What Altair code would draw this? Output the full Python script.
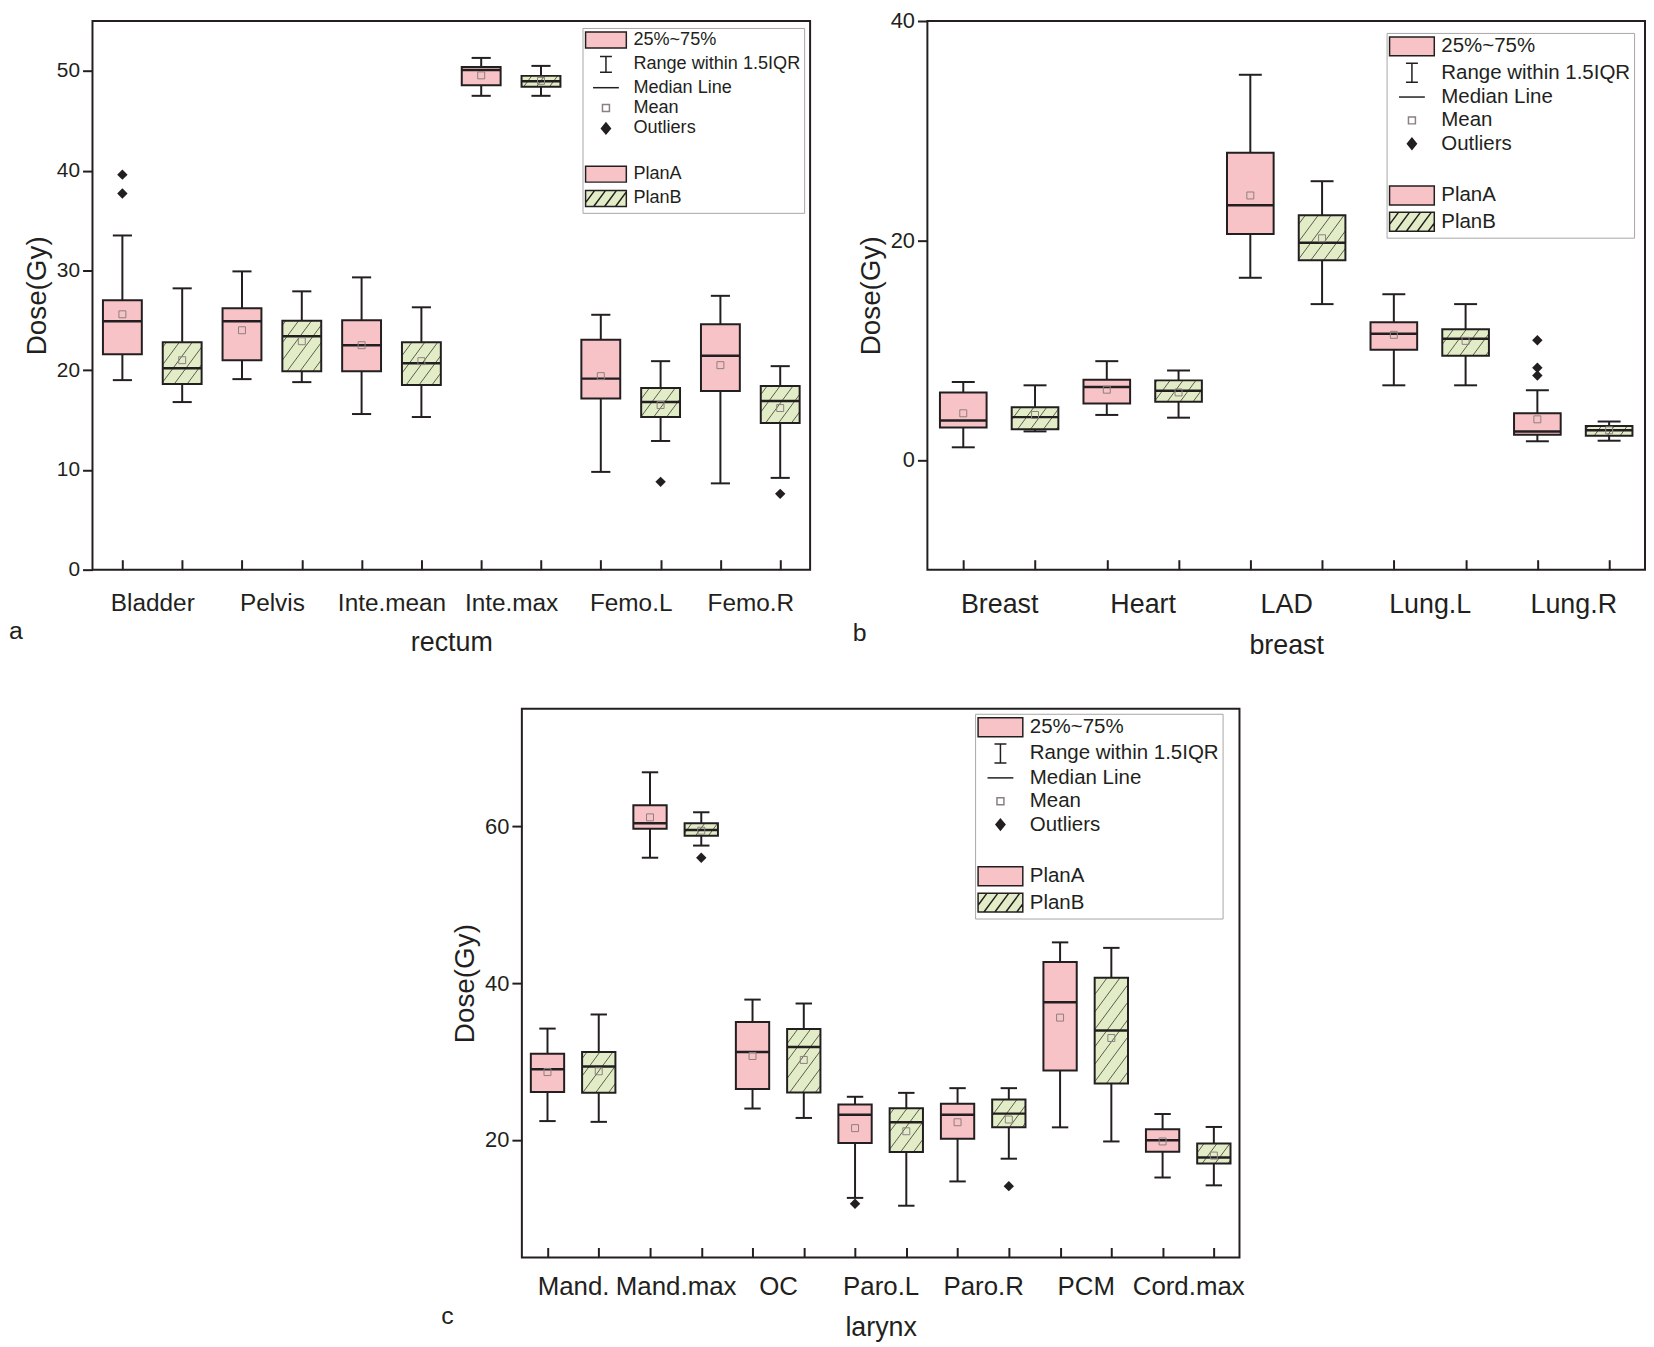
import json
import math

import altair as alt
import pandas as pd

PINK = "#f8c3c6"
GREEN = "#e2edc8"
DARK = "#231f20"
HATCH = "#4a4a40"
MEAN_GRAY = "#8a8080"
FONT = "Liberation Sans"

BOX_HALF = 0.325
CAP_HALF = 0.16
HATCH_GAP = 13      # px between hatch lines
HATCH_SLOPE = 1.35
SYM_STROKE = 1.5

# (a) rectum
RECTUM_ORGANS = ["Bladder", "Pelvis", "Inte.mean", "Inte.max", "Femo.L", "Femo.R"]
RECTUM_A_LOW = [19.0, 19.1, 15.6, 47.5, 9.8, 8.65]
RECTUM_A_Q1 = [21.6, 21.0, 19.9, 48.55, 17.15, 17.9]
RECTUM_A_MED = [24.9, 24.9, 22.5, 50.1, 19.15, 21.45]
RECTUM_A_Q3 = [27.0, 26.2, 25.0, 50.4, 23.05, 24.6]
RECTUM_A_HIGH = [33.5, 29.9, 29.3, 51.3, 25.55, 27.45]
RECTUM_A_MEAN = [25.6, 24.0, 22.5, 49.55, 19.4, 20.5]
RECTUM_B_LOW = [16.8, 18.8, 15.3, 47.5, 12.9, 9.2]
RECTUM_B_Q1 = [18.6, 19.9, 18.5, 48.4, 15.3, 14.7]
RECTUM_B_MED = [20.2, 23.4, 20.7, 48.95, 16.8, 16.9]
RECTUM_B_Q3 = [22.8, 24.95, 22.8, 49.5, 18.2, 18.4]
RECTUM_B_HIGH = [28.2, 27.9, 26.3, 50.5, 20.9, 20.4]
RECTUM_B_MEAN = [21.0, 22.9, 20.9, 49.0, 16.5, 16.2]
RECTUM_A_OUT = [("Bladder", 39.6), ("Bladder", 37.7)]
RECTUM_B_OUT = [("Femo.L", 8.8), ("Femo.R", 7.6)]

# (b) breast
BREAST_ORGANS = ["Breast", "Heart", "LAD", "Lung.L", "Lung.R"]
BREAST_A_LOW = [1.15, 4.1, 16.6, 6.8, 1.7]
BREAST_A_Q1 = [2.95, 5.15, 20.6, 10.05, 2.3]
BREAST_A_MED = [3.6, 6.65, 23.2, 11.5, 2.6]
BREAST_A_Q3 = [6.15, 7.3, 28.0, 12.55, 4.25]
BREAST_A_HIGH = [7.1, 9.0, 35.1, 15.1, 6.35]
BREAST_A_MEAN = [4.25, 6.4, 24.1, 11.4, 3.7]
BREAST_B_LOW = [2.6, 3.85, 14.2, 6.8, 1.75]
BREAST_B_Q1 = [2.8, 5.3, 18.2, 9.5, 2.2]
BREAST_B_MED = [3.9, 6.3, 19.8, 11.05, 2.7]
BREAST_B_Q3 = [4.8, 7.25, 22.3, 11.9, 3.1]
BREAST_B_HIGH = [6.8, 8.15, 25.4, 14.2, 3.5]
BREAST_B_MEAN = [4.1, 6.15, 20.2, 10.85, 2.7]
BREAST_A_OUT = [("Lung.R", 10.9), ("Lung.R", 8.4), ("Lung.R", 7.7)]
BREAST_B_OUT = []

# (c) larynx
LARYNX_ORGANS = ["Mand.", "Mand.max", "OC", "Paro.L", "Paro.R", "PCM", "Cord.max"]
LARYNX_A_LOW = [22.4, 56.0, 24.0, 12.6, 14.7, 21.6, 15.2]
LARYNX_A_Q1 = [26.1, 59.7, 26.5, 19.6, 20.15, 28.85, 18.5]
LARYNX_A_MED = [29.0, 60.4, 31.2, 23.2, 23.2, 37.55, 19.95]
LARYNX_A_Q3 = [31.0, 62.7, 35.05, 24.5, 24.6, 42.7, 21.35]
LARYNX_A_HIGH = [34.2, 66.9, 37.9, 25.5, 26.6, 45.2, 23.3]
LARYNX_A_MEAN = [28.65, 61.15, 30.7, 21.5, 22.25, 35.6, 19.8]
LARYNX_B_LOW = [22.3, 57.55, 22.8, 11.6, 17.6, 19.8, 14.2]
LARYNX_B_Q1 = [26.0, 58.8, 26.05, 18.45, 21.6, 27.2, 17.0]
LARYNX_B_MED = [29.35, 59.55, 31.85, 22.25, 23.35, 33.95, 17.75]
LARYNX_B_Q3 = [31.2, 60.4, 34.15, 24.05, 25.15, 40.7, 19.55]
LARYNX_B_HIGH = [36.0, 61.8, 37.4, 26.0, 26.6, 44.5, 21.65]
LARYNX_B_MEAN = [28.75, 59.45, 30.2, 21.1, 22.6, 33.0, 18.0]
LARYNX_A_OUT = [("Paro.L", 11.85)]
LARYNX_B_OUT = [("Mand.max", 56.0), ("Paro.R", 14.1)]

# legend entries (Origin-style box legend)
LEGEND_KEYS = ["25%~75%", "Range within 1.5IQR", "Median Line", "Mean", "Outliers", " ", "PlanA", "PlanB"]
LEGEND_FILLS = [PINK, "transparent", "transparent", "transparent", DARK, "transparent", PINK, GREEN]
LEGEND_STROKES = [DARK, DARK, DARK, MEAN_GRAY, DARK, "transparent", DARK, DARK]


def legend_paths(w, h):
    # symbol paths in px, normalised by h/2 (vega scales custom paths by sqrt(size)/2)
    r = h / 2

    def p(v):
        return f"{v / r:.3f}"

    box = f"M{p(-w / 2)},{p(-h / 2)}H{p(w / 2)}V{p(h / 2)}H{p(-w / 2)}Z"
    whisker = (f"M{p(-6)},{p(-h / 2)}H{p(6)}M0,{p(-h / 2)}V{p(h / 2)}"
               f"M{p(-6)},{p(h / 2)}H{p(6)}")
    median = f"M{p(-13)},0H{p(13)}"
    mean = f"M{p(-3.5)},{p(-3.5)}H{p(3.5)}V{p(3.5)}H{p(-3.5)}Z"
    diamond = f"M0,{p(-5.5)}L{p(4.5)},0L0,{p(5.5)}L{p(-4.5)},0Z"
    hatch = ""
    dx = h / HATCH_SLOPE
    x0 = -w / 2 - dx + 9
    while x0 < w / 2:
        xa, ya = x0, h / 2
        xb, yb = x0 + dx, -h / 2
        if xa < -w / 2:
            ya = h / 2 - (-w / 2 - xa) * HATCH_SLOPE
            xa = -w / 2
        if xb > w / 2:
            yb = -h / 2 + (xb - w / 2) * HATCH_SLOPE
            xb = w / 2
        hatch += f"M{p(xa)},{p(ya)}L{p(xb)},{p(yb)}"
        x0 += 11
    return [box, whisker, median, mean, diamond, box, box, box + hatch]


def box_frame(organs, stats_a, stats_b):
    rows = []
    for plan, stats, shift in (("PlanA", stats_a, 1), ("PlanB", stats_b, 2)):
        low, q1, med, q3, high, mean = stats
        for i, organ in enumerate(organs):
            pos = 2 * i + shift
            rows.append(dict(organ=organ, plan=plan, pos=pos,
                             left=pos - BOX_HALF, right=pos + BOX_HALF,
                             cap_l=pos - CAP_HALF, cap_r=pos + CAP_HALF,
                             low=low[i], q1=q1[i], med=med[i], q3=q3[i],
                             high=high[i], mean=mean[i]))
    return pd.DataFrame(rows)


def outlier_frame(organs, out_a, out_b):
    rows = []
    for shift, pts in ((1, out_a), (2, out_b)):
        for organ, val in pts:
            rows.append(dict(pos=2 * organs.index(organ) + shift, val=val))
    return pd.DataFrame(rows, columns=["pos", "val"])


def hatch_frame(boxes, width, height, x_dom, y_dom):
    # diagonal hatching inside each PlanB box, in data units
    kx = width / (x_dom[1] - x_dom[0])
    ky = height / (y_dom[1] - y_dom[0])
    segs = []
    for r in boxes.itertuples():
        u0, u1 = r.left * kx, r.right * kx
        v0, v1 = r.q1 * ky, r.q3 * ky
        k_lo = math.ceil((u0 - v1 / HATCH_SLOPE) / HATCH_GAP)
        k_hi = math.floor((u1 - v0 / HATCH_SLOPE) / HATCH_GAP)
        for k in range(k_lo, k_hi + 1):
            t = k * HATCH_GAP
            lo = max(v0, HATCH_SLOPE * (u0 - t))
            hi = min(v1, HATCH_SLOPE * (u1 - t))
            if hi - lo > 0.5:
                segs.append(dict(x=(t + lo / HATCH_SLOPE) / kx, y=lo / ky,
                                 x2=(t + hi / HATCH_SLOPE) / kx, y2=hi / ky))
    return pd.DataFrame(segs, columns=["x", "y", "x2", "y2"])


def panel(organs, stats_a, stats_b, out_a, out_b, y_dom, y_ticks, x_title, letter,
          width, height, label_size, tick_size, legend_size, sym_w, sym_h, row_pad,
          legend_xy, label_pad, title_pad, letter_dx):
    n = len(organs)
    boxes = box_frame(organs, stats_a, stats_b)
    outliers = outlier_frame(organs, out_a, out_b)
    x_dom = [0.5, 2 * n + 0.5]
    hatch = hatch_frame(boxes[boxes.plan == "PlanB"], width, height, x_dom, y_dom)

    xs = alt.Scale(domain=x_dom, nice=False, zero=False)
    ys = alt.Scale(domain=y_dom, nice=False, zero=False)

    # inward ticks at every box, organ names centred under each pair
    tick_axis = alt.Axis(
        orient="bottom", values=list(range(1, 2 * n + 1)), labels=False,
        tickSize=10, tickWidth=2, tickColor=DARK, offset=-10, domain=False, grid=False,
        title=None,
    )
    label_axis = alt.Axis(
        orient="bottom", values=[2 * i + 1.5 for i in range(n)],
        labelExpr=f"{json.dumps(organs)}[(datum.value - 1.5) / 2]",
        ticks=False, tickSize=0, domain=False, grid=False, offset=0,
        labelPadding=label_pad, labelFontSize=label_size, labelFont=FONT, labelColor=DARK,
        labelFlush=False, labelOverlap=False,
        title=x_title, titleFont=FONT, titleFontSize=27, titleFontWeight="normal",
        titleColor=DARK, titlePadding=title_pad,
    )
    y_axis = alt.Axis(
        values=y_ticks, tickSize=10, tickWidth=2, tickColor=DARK, domain=False, grid=False,
        labelPadding=3, labelFontSize=tick_size, labelFont=FONT, labelColor=DARK,
        labelFlush=False, title="Dose(Gy)", titleFont=FONT, titleFontSize=28,
        titleFontWeight="normal", titleColor=DARK, titlePadding=5,
    )

    def X(f):
        return alt.X(f, scale=xs, axis=None)

    # y axis left unset in overlay layers so the first layer's axis is kept
    def Y(f):
        return alt.Y(f, scale=ys)

    whisker = alt.Chart(boxes).mark_rule(color=DARK, strokeWidth=2).encode(
        x=alt.X("pos:Q", scale=xs, axis=tick_axis),
        y=alt.Y("low:Q", scale=ys, axis=y_axis),
        y2="high:Q",
    )
    caps = alt.Chart(boxes).transform_fold(["low", "high"], as_=["end", "val"]).mark_rule(
        color=DARK, strokeWidth=2
    ).encode(x=alt.X("cap_l:Q", scale=xs, axis=label_axis), x2="cap_r:Q", y=Y("val:Q"))

    box_a = alt.Chart(boxes).transform_filter(alt.datum.plan == "PlanA").mark_rect(
        fill=PINK, stroke=DARK, strokeWidth=2
    ).encode(x=X("left:Q"), x2="right:Q", y=Y("q1:Q"), y2="q3:Q")
    box_b = alt.Chart(boxes).transform_filter(alt.datum.plan == "PlanB").mark_rect(
        fill=GREEN
    ).encode(x=X("left:Q"), x2="right:Q", y=Y("q1:Q"), y2="q3:Q")
    hatch_lines = alt.Chart(hatch).mark_rule(color=HATCH, strokeWidth=0.9).encode(
        x=X("x:Q"), x2="x2:Q", y=Y("y:Q"), y2="y2:Q"
    )
    box_b_edge = alt.Chart(boxes).transform_filter(alt.datum.plan == "PlanB").mark_rect(
        fillOpacity=0, stroke=DARK, strokeWidth=2
    ).encode(x=X("left:Q"), x2="right:Q", y=Y("q1:Q"), y2="q3:Q")
    median = alt.Chart(boxes).mark_rule(color=DARK, strokeWidth=2.5).encode(
        x=X("left:Q"), x2="right:Q", y=Y("med:Q")
    )
    mean = alt.Chart(boxes).mark_point(
        shape="square", size=49, filled=False, color=MEAN_GRAY, strokeWidth=1, opacity=1
    ).encode(x=X("pos:Q"), y=Y("mean:Q"))
    outl = alt.Chart(outliers).mark_point(
        shape="diamond", filled=True, color=DARK, size=110, opacity=1
    ).encode(x=X("pos:Q"), y=Y("val:Q"))

    sym_col = math.ceil(sym_h + SYM_STROKE)
    lg = alt.Legend(
        title=None, orient="none", legendX=legend_xy[0], legendY=legend_xy[1],
        direction="vertical", labelFont=FONT, labelFontSize=legend_size, labelColor=DARK,
        symbolSize=sym_h * sym_h, symbolStrokeWidth=SYM_STROKE,
        symbolOffset=sym_w / 2 - sym_col / 2, labelOffset=sym_w / 2 + 7 - sym_col / 2,
        labelLimit=400, rowPadding=row_pad, padding=3,
        strokeColor="#a6a6a6", fillColor="white",
    )
    paths = legend_paths(sym_w, sym_h)
    legend_layer = alt.Chart(pd.DataFrame({"key": LEGEND_KEYS})).transform_filter(
        "false"
    ).mark_point(opacity=1).encode(
        fill=alt.Fill("key:N", scale=alt.Scale(domain=LEGEND_KEYS, range=LEGEND_FILLS), legend=lg),
        stroke=alt.Stroke("key:N", scale=alt.Scale(domain=LEGEND_KEYS, range=LEGEND_STROKES), legend=lg),
        shape=alt.Shape("key:N", scale=alt.Scale(domain=LEGEND_KEYS, range=paths), legend=lg),
    )

    return alt.layer(
        whisker, caps, box_a, box_b, hatch_lines, box_b_edge, median, mean, outl, legend_layer
    ).resolve_axis(x="independent").properties(
        width=width, height=height,
        title=alt.Title(letter, orient="bottom", anchor="start", frame="group",
                        dx=letter_dx, dy=-41, fontSize=25, font=FONT,
                        fontWeight="normal", color=DARK),
    )


rectum = panel(
    RECTUM_ORGANS,
    (RECTUM_A_LOW, RECTUM_A_Q1, RECTUM_A_MED, RECTUM_A_Q3, RECTUM_A_HIGH, RECTUM_A_MEAN),
    (RECTUM_B_LOW, RECTUM_B_Q1, RECTUM_B_MED, RECTUM_B_Q3, RECTUM_B_HIGH, RECTUM_B_MEAN),
    RECTUM_A_OUT, RECTUM_B_OUT, [0, 55], [0, 10, 20, 30, 40, 50], "rectum", "a",
    722, 552, 24.5, 21, 18.2, 41, 16, 1.5, (493, 7), 22, 15, -84,
)
breast = panel(
    BREAST_ORGANS,
    (BREAST_A_LOW, BREAST_A_Q1, BREAST_A_MED, BREAST_A_Q3, BREAST_A_HIGH, BREAST_A_MEAN),
    (BREAST_B_LOW, BREAST_B_Q1, BREAST_B_MED, BREAST_B_Q3, BREAST_B_HIGH, BREAST_B_MEAN),
    BREAST_A_OUT, BREAST_B_OUT, [-10, 40], [0, 20, 40], "breast", "b",
    722, 552, 27, 22, 20.6, 45, 19, 1.5, (462, 12), 22, 15, -75,
)
larynx = panel(
    LARYNX_ORGANS,
    (LARYNX_A_LOW, LARYNX_A_Q1, LARYNX_A_MED, LARYNX_A_Q3, LARYNX_A_HIGH, LARYNX_A_MEAN),
    (LARYNX_B_LOW, LARYNX_B_Q1, LARYNX_B_MED, LARYNX_B_Q3, LARYNX_B_HIGH, LARYNX_B_MEAN),
    LARYNX_A_OUT, LARYNX_B_OUT, [5, 75], [20, 40, 60], "larynx", "c",
    722, 552, 26, 22, 20.6, 45, 19, 1.5, (456, 5), 16, 16, -81,
)

spacer = alt.Chart(pd.DataFrame({"v": [0]})).mark_point(opacity=0).encode(
    x=alt.X("v:Q", axis=None), y=alt.Y("v:Q", axis=None)
).properties(width=432, height=20, view=alt.ViewBackground(strokeOpacity=0))

INDEP = dict(fill="independent", stroke="independent", shape="independent")

top_row = alt.hconcat(rectum, breast, spacing=118, bounds="flush").resolve_scale(**INDEP)
bottom_row = alt.hconcat(spacer, larynx, spacing=0, bounds="flush").resolve_scale(**INDEP)

chart = alt.vconcat(top_row, bottom_row, spacing=49).resolve_scale(**INDEP).properties(
    padding={"left": 0, "top": -3, "right": 0, "bottom": 0},
    background="white",
).configure_view(stroke=DARK, strokeWidth=2)

chart.save("out.html", embed_options={"renderer": "svg", "actions": False})
